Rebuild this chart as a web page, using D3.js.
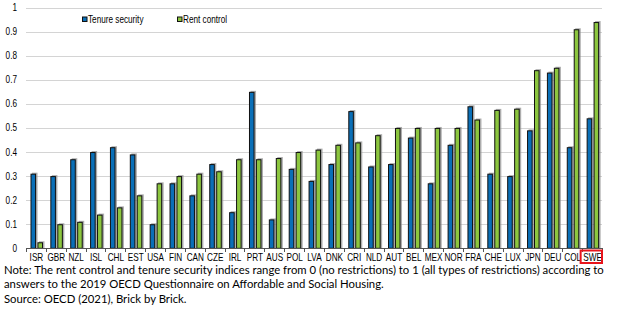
<!DOCTYPE html>
<html>
<head>
<meta charset="utf-8">
<script src="https://cdn.jsdelivr.net/npm/d3@7"></script>
<style>
  body { margin: 0; background: #fff; }
  svg { display: block; }
</style>
</head>
<body>
<div id="chart"></div>
<script>
const W = 621, H = 323;

// countries, in chart order
const countries = ["ISR","GBR","NZL","ISL","CHL","EST","USA","FIN","CAN","CZE","IRL","PRT","AUS","POL","LVA","DNK","CRI","NLD","AUT","BEL","MEX","NOR","FRA","CHE","LUX","JPN","DEU","COL","SWE"];
// tenure security index
const tenure = [0.31,0.30,0.37,0.40,0.42,0.39,0.10,0.27,0.22,0.35,0.15,0.65,0.12,0.33,0.28,0.35,0.57,0.34,0.35,0.46,0.27,0.43,0.59,0.31,0.30,0.49,0.73,0.42,0.54];
// rent control index
const rent = [0.025,0.10,0.11,0.14,0.17,0.22,0.27,0.30,0.31,0.32,0.37,0.37,0.375,0.40,0.41,0.43,0.44,0.47,0.50,0.50,0.50,0.50,0.535,0.575,0.58,0.74,0.75,0.91,0.94];
const yTicks = [0,0.1,0.2,0.3,0.4,0.5,0.6,0.7,0.8,0.9,1];
const seriesNames = ["Tenure security", "Rent control"];
const colors = ["#0a6fb7", "#8cc63f"];
const highlight = "SWE";
const notes = [
  "Note: The rent control and tenure security indices range from 0 (no restrictions) to 1 (all types of restrictions) according to",
  "answers to the 2019 OECD Questionnaire on Affordable and Social Housing.",
  "Source: OECD (2021), Brick by Brick."
];

// condensed look for the axis text: regular sans squeezed horizontally
const axisFont = "10px 'Liberation Sans', Arial, sans-serif";
const SQUEEZE = 0.82;
const rows = countries.map((c, i) => ({ c, vals: [tenure[i], rent[i]] }));

const svg = d3.select("#chart").append("svg")
  .attr("width", W).attr("height", H);

const x = d3.scaleBand().domain(countries).range([26, 602]);
const x1 = d3.scaleBand().domain([0, 1]).range([4.5, 17]).paddingInner(0.2);
const y = d3.scaleLinear().domain([0, 1]).range([248.3, 7.6]);

// grid
svg.append("g").selectAll("line")
  .data(yTicks.filter(d => d > 0))
  .join("line")
  .attr("x1", 26).attr("x2", 602)
  .attr("y1", d => Math.round(y(d)) + 0.5).attr("y2", d => Math.round(y(d)) + 0.5)
  .attr("stroke", "#d4d4d4").attr("stroke-width", 1.2);

// y labels
svg.append("g").selectAll("text")
  .data(yTicks)
  .join("text")
  .attr("transform", d => `translate(17,${y(d) + 3.5}) scale(${SQUEEZE},1)`)
  .attr("text-anchor", "end")
  .style("font", axisFont)
  .text(d => d === 0 ? "0" : d === 1 ? "1" : d.toFixed(1));

// bars
const groups = svg.append("g").selectAll("g")
  .data(rows)
  .join("g")
  .attr("transform", d => `translate(${x(d.c)},0)`);

// soft shadow behind each bar
groups.selectAll("rect.shadow")
  .data(d => d.vals.map((v, k) => ({ v, k })))
  .join("rect")
  .attr("class", "shadow")
  .attr("x", d => x1(d.k) + 1.5)
  .attr("y", d => y(d.v) - 1)
  .attr("width", x1.bandwidth())
  .attr("height", d => y(0) - y(d.v) + 1)
  .attr("fill", "#8a8a8a").attr("opacity", 0.7);

groups.selectAll("rect.bar")
  .data(d => d.vals.map((v, k) => ({ v, k })))
  .join("rect")
  .attr("class", "bar")
  .attr("x", d => x1(d.k) + 0.5)
  .attr("y", d => y(d.v) + 0.5)
  .attr("width", x1.bandwidth() - 1)
  .attr("height", d => Math.max(0, y(0) - y(d.v) - 0.5))
  .attr("fill", d => colors[d.k])
  .attr("stroke", "#111").attr("stroke-width", 1);

// x axis line and ticks between categories
svg.append("line")
  .attr("x1", 26).attr("x2", 602)
  .attr("y1", 248.5).attr("y2", 248.5)
  .attr("stroke", "#555").attr("stroke-width", 1);
svg.append("g").selectAll("line")
  .data(d3.range(countries.length + 1))
  .join("line")
  .attr("x1", i => Math.round(26 + i * x.step()) + 0.5)
  .attr("x2", i => Math.round(26 + i * x.step()) + 0.5)
  .attr("y1", 248).attr("y2", 252)
  .attr("stroke", "#555");

// x labels
svg.append("g").selectAll("text")
  .data(countries)
  .join("text")
  .attr("transform", d => `translate(${x(d) + x.bandwidth() / 2 + 0.5},260.5) scale(${SQUEEZE},1)`)
  .attr("text-anchor", "middle")
  .style("font", axisFont)
  .text(d => d);

// box around the highlighted country
svg.append("rect")
  .attr("x", x(highlight) - 1.5)
  .attr("y", 250.5)
  .attr("width", x.bandwidth() + 1.5)
  .attr("height", 12.5)
  .attr("fill", "none")
  .attr("stroke", "#e8141b").attr("stroke-width", 2);

// legend
const legend = svg.append("g").selectAll("g")
  .data(seriesNames)
  .join("g")
  .attr("transform", (d, i) => `translate(${[82, 177][i]},16.5)`);
legend.append("rect")
  .attr("x", 0.5).attr("y", 0.5).attr("width", 4.5).attr("height", 4.5)
  .attr("fill", (d, i) => colors[i]).attr("stroke", "#111");
legend.append("text")
  .attr("transform", `translate(6,6) scale(${SQUEEZE},1)`)
  .style("font", axisFont)
  .text(d => d);

// notes: size the font so the first line spans the chart width
const noteText = svg.append("g").selectAll("text")
  .data(notes)
  .join("text")
  .attr("x", 4)
  .attr("y", (d, i) => 273.5 + i * 14.8)
  .style("font-family", "Lato, sans-serif")
  .style("font-size", "11px")
  .text(d => d);
const firstLen = noteText.node().getComputedTextLength();
noteText.style("font-size", (11 * 600 / firstLen).toFixed(2) + "px");
</script>
</body>
</html>
